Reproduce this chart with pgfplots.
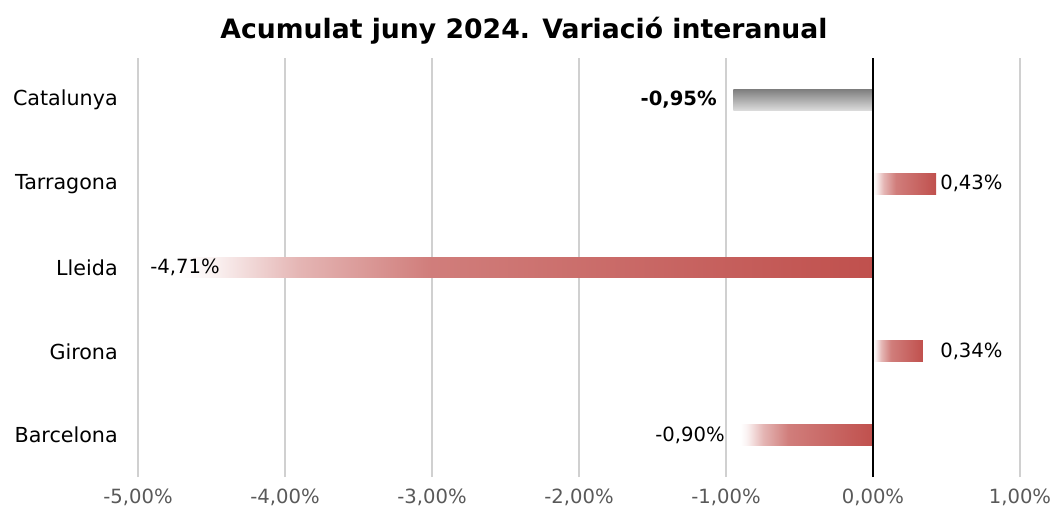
\documentclass[border=0pt]{standalone}
\usepackage{pgfplots}
\pgfplotsset{compat=1.18}
\usepackage{fontspec}
\setmainfont{DejaVu Sans}
\definecolor{redA}{HTML}{C0504D}
\definecolor{gridc}{HTML}{D0D0D0}
\definecolor{tickc}{HTML}{595959}
\pgfdeclarehorizontalshading{redbar}{100bp}{color(0bp)=(white); color(25bp)=(white); color(27.5bp)=(redA!8!white); color(33.5bp)=(redA!42!white); color(43bp)=(redA!74!white); color(75bp)=(redA); color(100bp)=(redA)}
\pgfdeclareverticalshading{graybar}{100bp}{color(0bp)=(gray!28); color(25bp)=(gray!28); color(75bp)=(gray); color(100bp)=(gray)}
\begin{document}
\begin{tikzpicture}
\begin{axis}[
  at={(0,0)}, anchor=south west,
  scale only axis, width=661.5pt, height=314.25pt,
  xmin=-5, xmax=1, ymin=-0.5, ymax=4.5,
  xbar, bar width=15.5pt, bar shift=0pt,
  axis line style={draw=none},
  major tick length=0pt,
  xtick={-5,-4,-3,-2,-1,0,1},
  xticklabels={{-5,00\%},{-4,00\%},{-3,00\%},{-2,00\%},{-1,00\%},{0,00\%},{1,00\%}},
  ytick={0,1,2,3,4},
  yticklabels={Barcelona,Girona,Lleida,Tarragona,Catalunya},
  xmajorgrids,
  grid style={gridc, line width=1pt},
  xticklabel style={anchor=center, yshift=-15pt, text=tickc, font=\fontsize{14.7pt}{17pt}\selectfont},
  yticklabel style={anchor=east, inner sep=0pt, xshift=-15pt, text=black, font=\fontsize{15.5pt}{18pt}\selectfont},
  clip=false,
]
\addplot[draw=none, shade, shading=redbar] coordinates {(-0.90,0)};
\addplot[draw=none, shade, shading=redbar] coordinates {(0.34,1)};
\addplot[draw=none, shade, shading=redbar] coordinates {(-4.71,2)};
\addplot[draw=none, shade, shading=redbar] coordinates {(0.43,3)};
\addplot[draw=none, shade, shading=graybar] coordinates {(-0.95,4)};
\draw[black, line width=1.1pt] (axis cs:0,-0.5) -- (axis cs:0,4.5);
\node[anchor=east, inner sep=0pt, font=\bfseries\fontsize{14.7pt}{17pt}\selectfont] at (axis cs:-1.061,4) {-0,95\%};
\node[anchor=west, inner sep=0pt, font=\fontsize{14.7pt}{17pt}\selectfont] at (axis cs:0.456,3) {0,43\%};
\node[anchor=west, inner sep=0pt, font=\fontsize{14.7pt}{17pt}\selectfont] at (axis cs:-4.918,2) {-4,71\%};
\node[anchor=west, inner sep=0pt, font=\fontsize{14.7pt}{17pt}\selectfont] at (axis cs:0.456,1) {0,34\%};
\node[anchor=east, inner sep=0pt, font=\fontsize{14.7pt}{17pt}\selectfont] at (axis cs:-1.007,0) {-0,90\%};
\end{axis}
\node[font=\bfseries\fontsize{20pt}{24pt}\selectfont] at (289.5pt,335pt) {Acumulat juny 2024. Variació interanual};
\pgfresetboundingbox
\path (-103.5pt,-25.5pt) rectangle (687pt,357.75pt);
\end{tikzpicture}
\end{document}
